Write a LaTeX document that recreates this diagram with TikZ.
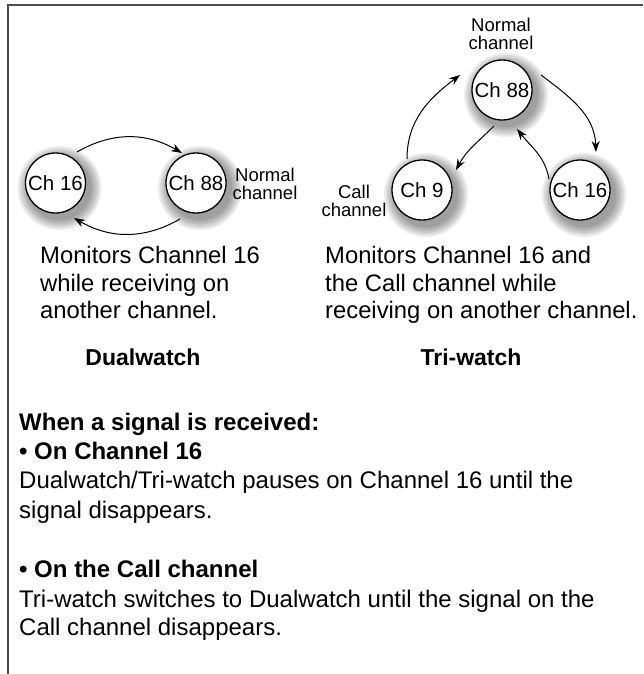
\documentclass[tikz,border=0pt]{standalone}
\usepackage{fontspec}
\setmainfont{Liberation Sans}
\usetikzlibrary{arrows.meta,calc}
\begin{document}
\begin{tikzpicture}[x=1pt,y=-1pt,
  chan/.style={circle,draw,line width=1.3pt,fill=white,minimum size=60pt,inner sep=0pt,font=\fontsize{20.5}{20}\selectfont},
  arr/.style={line width=1pt,-{Stealth[length=11pt,width=8pt]}},
  lbl/.style={align=center,inner sep=0pt,font=\fontsize{18.5}{18.5}\selectfont},
  up/.style={anchor=base west,inner sep=0pt,font=\fontsize{23.8}{28}\selectfont},
  ttl/.style={anchor=base,inner sep=0pt,font=\fontsize{23}{26}\selectfont\bfseries},
  low/.style={anchor=base west,inner sep=0pt,font=\fontsize{24}{28}\selectfont},
  lowb/.style={anchor=base west,inner sep=0pt,font=\fontsize{24}{28}\selectfont\bfseries},
  frame/.style={line width=2pt,draw=black!70}]
\useasboundingbox (0,0) rectangle (643,674);
\fill[white] (0,0) rectangle (643,674);
\draw[frame] (8,674) -- (8,5) -- (643,5);
% shadows
\foreach \cx/\cy in {55.5/183,196/183,502/90,422/190,580/190}{
  \foreach \r in {42,40,38,36,34,32}{
    \fill[black,opacity=0.075] (\cx+4,\cy+5) circle (\r pt);
  }
}
% Dualwatch
\node[chan] (d16) at (55.5,183) {Ch 16};
\node[chan] (d88) at (196,183) {Ch 88};
\node[lbl] (dnorm) at (265,184) {Normal\\channel};
\draw[arr] ($(d16.center)+(21.5,-31)$) to[out=30,in=150] ($(d88.center)+(-14,-30)$);
\draw[arr] ($(d88.center)+(-16,36)$) to[out=210,in=-30] ($(d16.center)+(18.5,35)$);
\node[up] (dl1) at (40,263) {Monitors Channel 16};
\node[up] (dl2) at (40,291) {while receiving on};
\node[up] (dl3) at (40,318) {another channel.};
\node[ttl] (dttl) at (143,365) {Dualwatch};
% Tri-watch
\node[chan] (t88) at (502,90) {Ch 88};
\node[chan] (t9) at (422,190) {Ch 9};
\node[chan] (t16) at (580,190) {Ch 16};
\node[lbl] (tnorm) at (501,34) {Normal\\channel};
\node[lbl] (tcall) at (354,201) {Call\\channel};
\draw[arr] ($(t9.center)+(-15,-31)$) to[out=90,in=217] ($(t88.center)+(-42,-15)$);
\draw[arr] ($(t88.center)+(39,-15)$) to[out=-37,in=92] ($(t16.center)+(16,-38)$);
\draw[arr] ($(t88.center)+(-8,36)$) to[out=225,in=62] ($(t9.center)+(34,-20)$);
\draw[arr] ($(t16.center)+(-31,-11)$) to[out=100,in=-52] ($(t88.center)+(15,39)$);
\node[up] (tl1) at (325,263) {Monitors Channel 16 and};
\node[up] (tl2) at (325,291) {the Call channel while};
\node[up] (tl3) at (325,318) {receiving on another channel.};
\node[ttl] (tttl) at (471,365) {Tri-watch};
% lower text
\node[lowb] (w1) at (19,430) {When a signal is received:};
\node[lowb] (w2) at (19,459) {\textbullet\ On Channel 16};
\node[low] (w3) at (19,488) {Dualwatch/Tri-watch pauses on Channel 16 until the};
\node[low] (w4) at (19,518) {signal disappears.};
\node[lowb] (w5) at (19,577) {\textbullet\ On the Call channel};
\node[low] (w6) at (19,607) {Tri-watch switches to Dualwatch until the signal on the};
\node[low] (w7) at (19,635) {Call channel disappears.};
\end{tikzpicture}
\end{document}
